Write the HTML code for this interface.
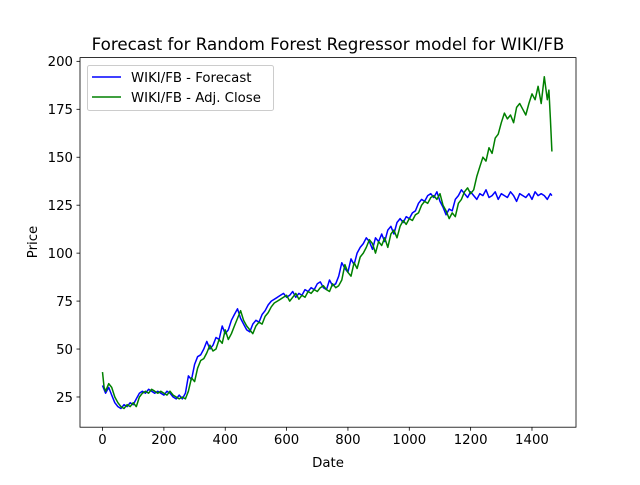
<!DOCTYPE html>
<html><head><meta charset="utf-8"><style>
body{margin:0;background:#fff}
svg text{font-family:"DejaVu Sans","Liberation Sans",sans-serif;fill:#000}
</style></head><body>
<svg id="c" width="640" height="480" xmlns="http://www.w3.org/2000/svg"></svg>
<script>
const closeX=[0,5,10,20,30,40,50,60,70,80,90,100,110,120,130,140,150,160,170,180,190,200,210,220,230,240,250,260,270,280,290,300,310,320,330,340,350,360,370,380,390,400,410,420,430,440,450,460,470,480,490,500,510,520,530,540,550,560,570,580,590,600,610,620,630,640,650,660,670,680,690,700,710,720,730,740,750,760,770,780,790,800,810,820,830,840,850,860,870,880,890,900,910,920,930,940,950,960,970,980,990,1000,1010,1020,1030,1040,1050,1060,1070,1080,1090,1100,1110,1120,1130,1140,1150,1160,1170,1180,1190,1200,1210,1220,1230,1240,1250,1260,1270,1280,1290,1300,1310,1320,1330,1340,1350,1360,1370,1380,1390,1400,1410,1420,1430,1440,1450,1455,1460,1465];
const closeY=[38,30,28,32,30,25,22,20,19,21,20,22,20,25,27,28,27,29,28,27,28,27,26,28,26,25,24,25,24,28,35,33,40,44,45,48,52,49,50,55,53,60,55,58,62,66,70,65,62,60,58,62,64,63,67,69,72,74,75,76,77,78,75,77,79,76,78,77,80,79,81,80,82,83,81,80,84,82,83,86,94,90,88,95,92,98,100,103,107,105,100,106,104,108,103,110,112,108,114,117,115,118,117,120,121,125,127,126,129,130,128,131,125,122,118,121,119,126,128,132,134,131,133,140,145,150,148,155,152,160,162,168,173,170,172,168,176,178,175,172,178,183,180,187,178,192,180,185,170,153];
const fcX=[0,10,20,30,40,50,60,70,80,90,100,110,120,130,140,150,160,170,180,190,200,210,220,230,240,250,260,270,280,290,300,310,320,330,340,350,360,370,380,390,400,410,420,430,440,450,460,470,480,490,500,510,520,530,540,550,560,570,580,590,600,610,620,630,640,650,660,670,680,690,700,710,720,730,740,750,760,770,780,790,800,810,820,830,840,850,860,870,880,890,900,910,920,930,940,950,960,970,980,990,1000,1010,1020,1030,1040,1050,1060,1070,1080,1090,1100,1110,1120,1130,1140,1150,1160,1170,1180,1190,1200,1210,1220,1230,1240,1250,1260,1270,1280,1290,1300,1310,1320,1330,1340,1350,1360,1370,1380,1390,1400,1410,1420,1430,1440,1450,1460,1465];
const fcY=[31,27,30,26,22,20,19,21,20,22,21,24,27,28,27,29,28,27,28,27,26,28,27,25,24,26,24,27,36,34,42,46,47,50,54,50,52,56,55,62,58,60,65,68,71,66,63,60,59,63,65,64,68,70,73,75,76,77,78,79,77,78,80,77,79,78,81,80,82,81,84,85,82,81,86,83,84,88,95,92,90,97,94,100,103,105,108,106,102,108,106,110,106,112,114,110,116,118,116,119,118,121,122,126,128,127,130,131,129,132,127,124,120,123,122,128,130,133,131,129,132,130,128,131,130,133,129,130,132,128,131,130,129,132,130,127,131,130,129,131,128,132,130,131,130,128,131,130];
const xTicks=[0,200,400,600,800,1000,1200,1400];
const yTicks=[25,50,75,100,125,150,175,200];
const L=80,R=576,T=57.6,B=427.2,xmin=-73.5,xmax=1543.5,ymin=9.25,ymax=201.95;
const sx=v=>L+(v-xmin)/(xmax-xmin)*(R-L);
const sy=v=>B-(v-ymin)/(ymax-ymin)*(B-T);
const svg=document.getElementById('c');const NS='http://www.w3.org/2000/svg';
function mk(t,a,txt){const e=document.createElementNS(NS,t);for(const k in a)e.setAttribute(k,a[k]);if(txt!==undefined)e.textContent=txt;svg.appendChild(e);return e;}
function line(xs,ys,col,name){const p=xs.map((x,i)=>(i?'L':'M')+sx(x).toFixed(1)+','+sy(ys[i]).toFixed(1)).join('');
const e=mk('path',{d:p,fill:'none',stroke:col,'stroke-width':1.5,'stroke-linejoin':'round'});

}
line(fcX,fcY,'#0000ff','forecast-line');
line(closeX,closeY,'#008000','adj-close-line');
const fr=mk('rect',{x:L,y:T,width:R-L,height:B-T,fill:'none',stroke:'#000','stroke-width':0.8});


xTicks.forEach(v=>{const x=sx(v);mk('line',{x1:x,x2:x,y1:B,y2:B+3.5,stroke:'#000','stroke-width':0.8});
const t=mk('text',{x:x,y:B+17,'font-size':'13.3','text-anchor':'middle'},v);

});
yTicks.forEach(v=>{const y=sy(v);mk('line',{x1:L-3.5,x2:L,y1:y,y2:y,stroke:'#000','stroke-width':0.8});
const t=mk('text',{x:L-7,y:y+4.8,'font-size':'13.3','text-anchor':'end'},v);

});
let t=mk('text',{x:328,y:50,'font-size':'16.7','text-anchor':'middle'},'Forecast for Random Forest Regressor model for WIKI/FB');


t=mk('text',{x:328,y:467,'font-size':'13.3','text-anchor':'middle'},'Date');


t=mk('text',{x:37,y:242,'font-size':'13.3','text-anchor':'middle',transform:'rotate(-90 37 242)'},'Price');


const lg=mk('rect',{x:87.5,y:65.5,width:186,height:45,rx:2,fill:'#fff','fill-opacity':0.8,stroke:'#ccc'});


mk('line',{x1:92,x2:121,y1:77,y2:77,stroke:'#0000ff','stroke-width':1.5});
mk('line',{x1:92,x2:121,y1:97,y2:97,stroke:'#008000','stroke-width':1.5});
t=mk('text',{x:131,y:82,'font-size':'13.3'},'WIKI/FB - Forecast');


t=mk('text',{x:131,y:102,'font-size':'13.3'},'WIKI/FB - Adj. Close');


</script>
</body></html>
